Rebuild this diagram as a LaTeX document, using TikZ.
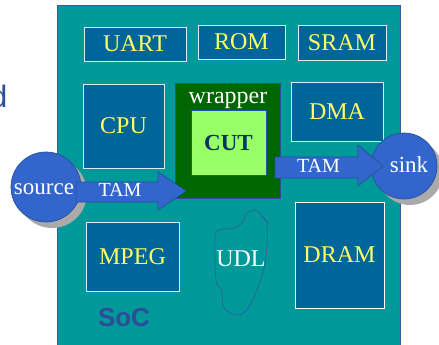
\documentclass[tikz,border=0pt]{standalone}
\usepackage{fontspec}
\setmainfont{Liberation Serif}
\newfontfamily\arialfont{Liberation Sans}
\usetikzlibrary{calc}
\definecolor{socteal}{HTML}{009999}
\definecolor{blkblue}{HTML}{006699}
\definecolor{wrapgreen}{HTML}{006600}
\definecolor{cutgreen}{HTML}{99FF66}
\definecolor{tamblue}{HTML}{3366CC}
\definecolor{tamedge}{HTML}{2A4F9E}
\definecolor{lblyellow}{HTML}{FFFF66}
\definecolor{cuttext}{HTML}{003366}
\definecolor{soctext}{HTML}{2F4C9A}
\definecolor{boxline}{HTML}{D8ECF4}
\definecolor{udlline}{HTML}{2F5F9F}
\definecolor{shadowgray}{HTML}{AAAAAA}
\tikzset{
  lbl/.style={font=\fontsize{24}{28}\selectfont, inner sep=0pt},
  ipblock/.style={fill=blkblue, draw=boxline, line width=0.8pt},
  blocktext/.style={lbl, text=lblyellow},
  whitetext/.style={lbl, text=white},
  tamarrow/.style={fill=tamblue, draw=tamedge, line width=0.7pt, line join=miter},
  tamtext/.style={font=\fontsize{20}{24}\selectfont, text=white, inner sep=0pt},
  endpoint/.style={circle, fill=tamblue, draw=tamedge, line width=0.7pt, minimum size=#1, inner sep=0pt},
  shadowdisk/.style={circle, fill=shadowgray, minimum size=#1, inner sep=0pt},
}
\begin{document}
\begin{tikzpicture}[x=1pt, y=-1pt]
\useasboundingbox (0,0) rectangle (439,345);
% partial slide text at left
\node[font=\arialfont\fontsize{31}{34}\selectfont, text=soctext, inner sep=0pt, anchor=base east] (dchar) at (7.5,107) {d};
% SoC die
\draw[fill=socteal, draw=udlline, line width=0.6pt] (57,5) rectangle (400,352);
\node[font=\arialfont\bfseries\fontsize{26}{30}\selectfont, text=soctext, inner sep=0pt] (soc) at (124,318) {SoC};
% IP blocks
\draw[ipblock] (84,27) rectangle (186,61);
\node[blocktext] (uart) at (135,44) {UART};
\draw[ipblock] (198,25) rectangle (285,59);
\node[blocktext] (rom) at (241.5,42) {ROM};
\draw[ipblock] (298,25) rectangle (386,60);
\node[blocktext] (sram) at (342,42.5) {SRAM};
\draw[ipblock] (83,84) rectangle (164,168);
\node[blocktext] (cpu) at (123.5,126) {CPU};
\draw[ipblock] (291,82) rectangle (383,141);
\node[blocktext] (dma) at (337,111.5) {DMA};
\draw[ipblock] (86,222) rectangle (179,291);
\node[blocktext] (mpeg) at (132.5,256.5) {MPEG};
\draw[ipblock, draw=white] (295,202) rectangle (384,308);
\node[blocktext] (dram) at (339.5,255) {DRAM};
% wrapper and CUT
\draw[fill=wrapgreen, draw=tamedge, line width=0.8pt] (175,83) rectangle (280,198);
\node[whitetext, anchor=base] (wraplbl) at (228,103) {wrapper};
\draw[fill=cutgreen, draw=tamedge, line width=0.6pt] (191,110) rectangle (266,175);
\node[lbl, font=\bfseries\fontsize{23}{27}\selectfont, text=cuttext] (cut) at (228.5,142.5) {CUT};
% UDL blob
\draw[udlline, line width=0.7pt] plot[smooth, tension=0.6] coordinates {
 (262,217) (267.3,222) (256.7,210.7) (246.7,213.3) (241.7,223.3) (233.3,228.3) (218.3,230)
 (215,238.3) (216,280) (221.7,290) (223.3,306.7) (235,315) (246.7,310) (258.3,286.7)
 (265,263.3) (267.3,240) (267,223)};
\node[whitetext] (udl) at (241,258.5) {UDL};
% source
\node[shadowdisk=70pt] (srcshadow) at (52,193) {};
\node[endpoint=70pt] (source) at (46,187) {};
\coordinate (a1s) at (76,182);
\draw[tamarrow] (a1s) -- (158,182) -- (158,172) -- (186,191) -- (158,210) -- (158,202) -- (76,202) -- cycle;
\node[whitetext, font=\fontsize{23}{27}\selectfont] (srctext) at (44,189) {source};
\node[tamtext] (tam1) at (120,190) {TAM};
% sink
\node[shadowdisk=66pt] (sinkshadow) at (410,172) {};
\node[endpoint=66pt] (sink) at (404,166) {};
\coordinate (a2s) at (275,157);
\draw[tamarrow] (a2s) -- (358,157) -- (358,145) -- (383,166) -- (358,186) -- (358,178) -- (275,178) -- cycle;
\node[tamtext] (tam2) at (318.5,166) {TAM};
\node[whitetext, font=\fontsize{23}{27}\selectfont] (sinktext) at (409,165) {sink};
\end{tikzpicture}
\end{document}
